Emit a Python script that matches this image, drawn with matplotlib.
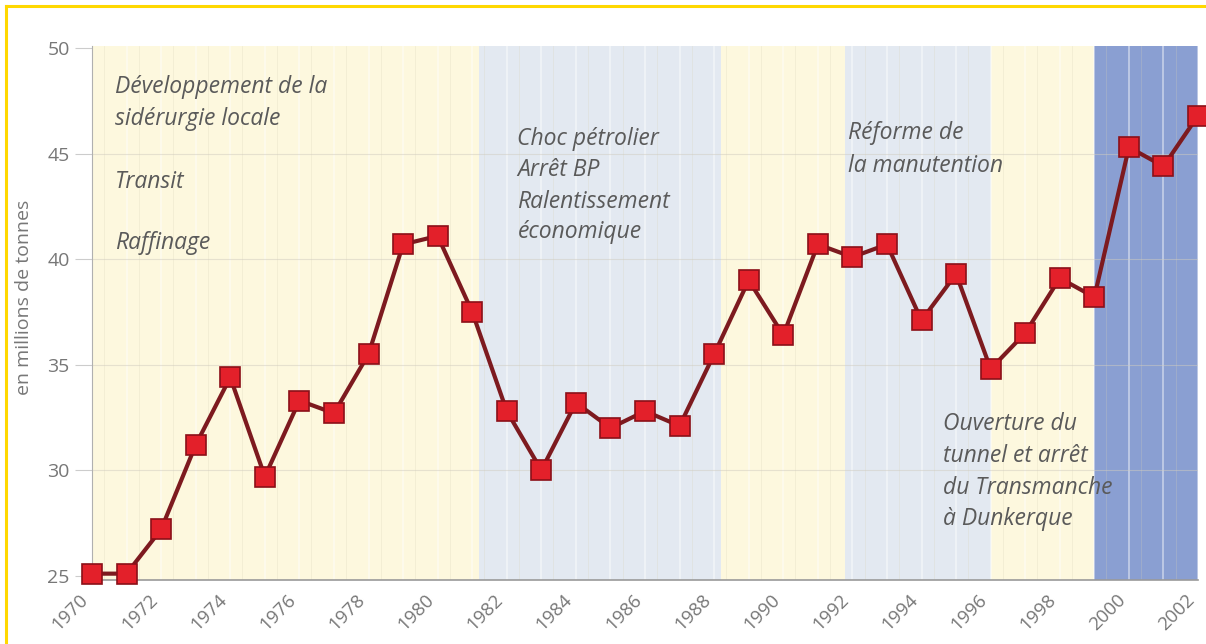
"""Trafic du port de Dunkerque 1970-2002"""

import numpy as np
import matplotlib.pyplot as plt
from matplotlib.lines import Line2D

years = np.arange(1970, 2003)
tonnage = [25.1, 25.1, 27.2, 31.2, 34.4, 29.7, 33.3, 32.7, 35.5, 40.7,
           41.1, 37.5, 32.8, 30.0, 33.2, 32.0, 32.8, 32.1, 35.5, 39.0,
           36.4, 40.7, 40.1, 40.7, 37.1, 39.3, 34.8, 36.5, 39.1, 38.2,
           45.3, 44.4, 46.8]

period_start = [1970, 1981.2, 1988.2, 1991.8, 1996.0, 1999.0]
period_end = [1981.2, 1988.2, 1991.8, 1996.0, 1999.0, 2002.0]
period_color = ['#fdf8de', '#e3e9f1', '#fdf8de', '#e3e9f1', '#fdf8de', '#8a9fd2']

yticks = [25, 30, 35, 40, 45, 50]
xticks = np.arange(1970, 2003, 2)

# one entry per line of text: (year, value, text)
notes = [
    (1970.67, 48.16, 'Développement de la'),
    (1970.67, 46.64, 'sidérurgie locale'),
    (1970.67, 43.65, 'Transit'),
    (1970.67, 40.76, 'Raffinage'),
    (1982.31, 45.69, 'Choc pétrolier'),
    (1982.31, 44.22, 'Arrêt BP'),
    (1982.31, 42.71, 'Ralentissement'),
    (1982.31, 41.28, 'économique'),
    (1991.86, 45.98, 'Réforme de'),
    (1991.86, 44.41, 'la manutention'),
    (1994.62, 32.19, 'Ouverture du'),
    (1994.62, 30.67, 'tunnel et arrêt'),
    (1994.62, 29.15, 'du Transmanche'),
    (1994.62, 27.68, 'à Dunkerque'),
]

grey = '#777777'
fam = ['Open Sans', 'DejaVu Sans']

fig = plt.figure(figsize=(12.06, 6.44), dpi=100)
ax = fig.add_axes([0.0763, 0.0994, 0.9171, 0.8292])

for x0, x1, c in zip(period_start, period_end, period_color):
    ax.axvspan(x0, x1, color=c, lw=0, zorder=0)

# faint yearly stripes
for y in years:
    ax.axvline(y, color='white', lw=1.2, alpha=0.5, zorder=1)
    ax.axvline(y + 0.35, color='#d8d2b8', lw=0.6, alpha=0.3, zorder=1)
for t in yticks[1:-1]:
    ax.axhline(t, color='#d0ccc0', lw=0.8, alpha=0.5, zorder=1)

ax.plot(years, tonnage, color='#7d1a1f', lw=3, zorder=3, clip_on=False)
ax.plot(years, tonnage, ls='none', marker='s', ms=14, mfc='#e3202a',
        mec='#8b1018', mew=1.2, zorder=4, clip_on=False)

for x, y, s in notes:
    ax.text(x, y, s, style='italic', fontsize=16.5, color='#5a5a5a',
            family=fam, va='center', ha='left', zorder=2)

ax.set_xlim(1970, 2002)
ax.set_ylim(24.8, 50.1)
ax.set_yticks(yticks)
ax.set_xticks(xticks)
ax.set_xticklabels([str(x) for x in xticks], rotation=45, ha='right',
                   fontsize=13.5, color=grey, family=fam)
ax.set_yticklabels([str(t) for t in yticks], fontsize=14, color=grey,
                   family=fam)
ax.tick_params(axis='y', length=12, color='#cccccc', pad=4)
ax.tick_params(axis='x', length=0, pad=8)
ax.set_ylabel('en millions de tonnes', fontsize=14, color=grey,
              family=fam)
ax.yaxis.set_label_coords(-0.053, 0.53)

for side in ['top', 'right']:
    ax.spines[side].set_visible(False)
ax.spines['left'].set_color('#b0b0b0')
ax.spines['bottom'].set_color('#9a9a9a')
ax.spines['bottom'].set_linewidth(1.2)

# yellow frame on left and top
fig.add_artist(Line2D([6 / 1206, 6 / 1206], [0, 1 - 6 / 644],
                      color='#ffd800', lw=2.2, transform=fig.transFigure))
fig.add_artist(Line2D([6 / 1206, 1], [1 - 6 / 644, 1 - 6 / 644],
                      color='#ffd800', lw=2.2, transform=fig.transFigure))

plt.savefig('out.png', dpi=100)
